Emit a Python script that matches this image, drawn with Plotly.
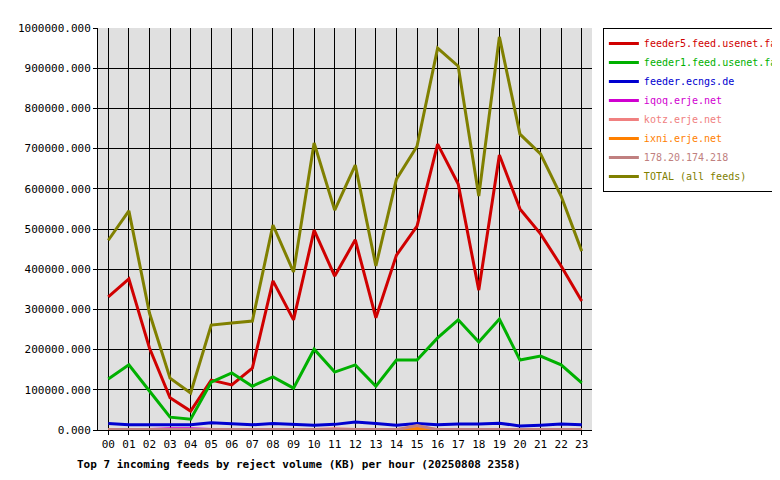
import plotly.graph_objects as go

hours = [f"{h:02d}" for h in range(24)]
feeder5 = [331e3,376e3,204e3,80e3,47e3,124e3,112e3,154e3,371e3,274e3,497e3,383e3,473e3,279e3,435e3,507e3,711e3,612e3,348e3,684e3,550e3,488e3,408e3,321e3]
feeder1 = [127e3,162e3,97e3,32e3,27e3,119e3,142e3,109e3,132e3,104e3,201e3,144e3,162e3,109e3,174e3,174e3,229e3,274e3,219e3,276e3,174e3,184e3,162e3,117e3]
ecngs = [16e3,13e3,13e3,13e3,13e3,18e3,16e3,13e3,16e3,14e3,12e3,14e3,20e3,16e3,12e3,16e3,13e3,15e3,15e3,17e3,10e3,12e3,15e3,13e3]
iqoq = [1e3,1e3,1e3,3e3,3e3,1e3,1e3,1e3,1e3,1e3,1e3,1e3,1e3,1e3,1e3,1e3,1e3,1e3,1e3,1e3,1e3,1e3,1e3,1e3]
kotz = [1e3,1e3,1e3,1e3,1e3,1e3,1e3,1e3,1e3,1e3,1e3,3e3,1e3,1e3,1e3,1e3,1e3,1e3,1e3,1e3,1e3,1e3,1e3,1e3]
ixni = [1e3,1e3,1e3,1e3,1e3,1e3,1e3,1e3,1e3,1e3,1e3,1e3,1e3,1e3,1e3,4e3,1e3,1e3,1e3,1e3,1e3,1e3,1e3,1e3]
ip178 = [1e3,1e3,1e3,1e3,1e3,1e3,1e3,1e3,1e3,1e3,1e3,1e3,1e3,1e3,1e3,11e3,1e3,1e3,1e3,1e3,1e3,1e3,1e3,1e3]
total = [472e3,545e3,291e3,129e3,92e3,261e3,266e3,271e3,510e3,393e3,714e3,547e3,659e3,408e3,624e3,706e3,950e3,905e3,582e3,978e3,736e3,687e3,582e3,445e3]

series = [
    ("feeder5.feed.usenet.farm", feeder5, "#d00000"),
    ("feeder1.feed.usenet.farm", feeder1, "#00b000"),
    ("feeder.ecngs.de", ecngs, "#0000d0"),
    ("iqoq.erje.net", iqoq, "#d000d0"),
    ("kotz.erje.net", kotz, "#f08080"),
    ("ixni.erje.net", ixni, "#ff8000"),
    ("178.20.174.218", ip178, "#c08080"),
    ("TOTAL (all feeds)", total, "#808000"),
]

font = "DejaVu Sans Mono"
fig = go.Figure()
for name, vals, col in series:
    fig.add_trace(go.Scatter(x=hours, y=vals, mode="lines",
                             name=f'<span style="color:{col}">{name}</span>',
                             line=dict(color=col, width=3)))

fig.update_layout(
    width=780, height=480, paper_bgcolor="white", plot_bgcolor="#e0e0e0",
    margin=dict(l=90, r=196, t=20, b=58, autoexpand=False),
    font=dict(family=font, size=10, color="black"),
    showlegend=True,
    legend=dict(x=1.022, y=1.0, xanchor="left", yanchor="top",
                bordercolor="black", borderwidth=1, bgcolor="white",
                font=dict(family=font, size=10), tracegroupgap=0, itemwidth=30),
    xaxis=dict(type="category", showgrid=True, gridcolor="black", gridwidth=1,
               showline=True, linecolor="black", ticks="outside", tickcolor="black",
               ticklen=4, range=[-0.5, 23.5], tickfont=dict(family=font, size=11)),
    yaxis=dict(range=[0, 1e6], dtick=1e5, tickformat=".3f", showgrid=True,
               gridcolor="black", gridwidth=1, showline=True, linecolor="black",
               ticks="outside", tickcolor="black", ticklen=4, zeroline=False,
               tickfont=dict(family=font, size=11)),
    annotations=[dict(text="<b>Top 7 incoming feeds by reject volume (KB) per hour (20250808 2358)</b>",
                      xref="paper", yref="paper", x=-0.047, y=-0.065, xanchor="left",
                      yanchor="top", showarrow=False, font=dict(family=font, size=11))],
)
fig.write_html("out.html")
